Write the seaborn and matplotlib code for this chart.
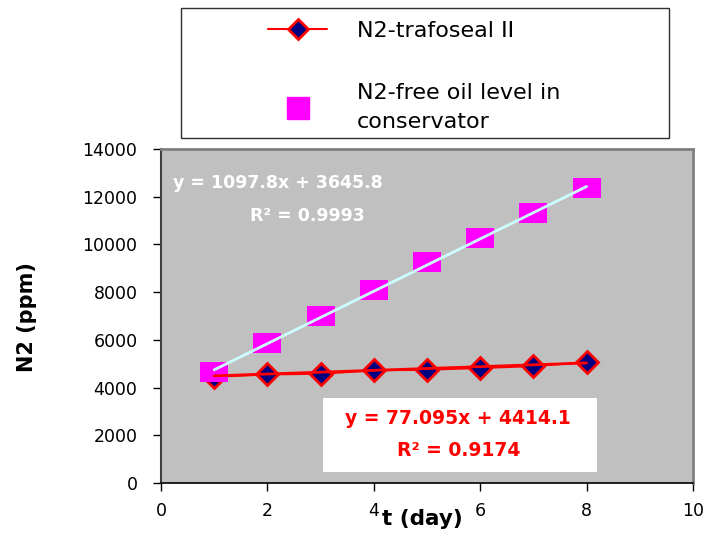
import numpy as np
import pandas as pd
import seaborn as sns
import matplotlib
matplotlib.use("Agg")
import matplotlib.pyplot as plt
from matplotlib.patches import Rectangle
from matplotlib.lines import Line2D

# ---- data ----
days = [1, 2, 3, 4, 5, 6, 7, 8]
n2_trafoseal = [4450, 4550, 4580, 4720, 4750, 4820, 4900, 5070]
n2_free_oil = [4650, 5850, 7000, 8100, 9250, 10250, 11300, 12350]
trend_trafoseal = [77.095, 4414.1]     # slope, intercept
trend_free_oil = [1097.8, 3645.8]
series_labels = ["N2-trafoseal II", "N2-free oil level in\nconservator"]
eq_trafoseal = ["y = 77.095x + 4414.1", "R² = 0.9174"]
eq_free_oil = ["y = 1097.8x + 3645.8", "R² = 0.9993"]
x_ticks = [0, 2, 4, 6, 8, 10]
y_ticks = [0, 2000, 4000, 6000, 8000, 10000, 12000, 14000]
x_label = "t (day)"
y_label = "N2 (ppm)"

sns.set_style("ticks")
plt.rcParams["font.family"] = ["DejaVu Sans"]
plt.rcParams["text.color"] = "black"
plt.rcParams["axes.labelcolor"] = "black"
plt.rcParams["xtick.color"] = "black"
plt.rcParams["ytick.color"] = "black"

W, H = 722, 538
fig = plt.figure(figsize=(W / 100, H / 100), dpi=100)
L, R, T, B = 161, 693, 149, 483
ax = fig.add_axes([L / W, 1 - B / H, (R - L) / W, (B - T) / H])
ax.set_facecolor("#C0C0C0")
ax.grid(False)

df_t = pd.DataFrame({"day": days, "N2": n2_trafoseal})
df_f = pd.DataFrame({"day": days, "N2": n2_free_oil})

sns.lineplot(data=df_t, x="day", y="N2", ax=ax, color="red", lw=1.5,
             marker="D", markersize=11, markerfacecolor="#000080",
             markeredgecolor="red", markeredgewidth=2, zorder=3, legend=False)

rect_marker = [(-1.3, -1), (1.3, -1), (1.3, 1), (-1.3, 1), (-1.3, -1)]
sns.scatterplot(data=df_f, x="day", y="N2", ax=ax, marker=rect_marker,
                s=19.5 ** 2, color="#FF00FF", linewidth=0, zorder=4, legend=False)

xs = np.array([days[0], days[-1]], dtype=float)
sns.lineplot(x=xs, y=trend_free_oil[0] * xs + trend_free_oil[1], ax=ax,
             color="#CCFFFF", lw=2, zorder=5, legend=False)
sns.lineplot(x=xs, y=trend_trafoseal[0] * xs + trend_trafoseal[1], ax=ax,
             color="red", lw=2, zorder=5, legend=False)

ax.set_xlim(0, 10)
ax.set_ylim(0, 14000)
ax.set_xticks(x_ticks)
ax.set_yticks(y_ticks)
ax.tick_params(axis="both", direction="out", length=6, width=1,
               color="black", labelsize=12.5, labelcolor="black")
ax.tick_params(axis="x", pad=8)
ax.tick_params(axis="y", pad=11)

for s in ["top", "right"]:
    ax.spines[s].set_color("#808080")
    ax.spines[s].set_linewidth(2)
ax.spines["left"].set_color("#404040")
ax.spines["left"].set_linewidth(1.5)
ax.spines["bottom"].set_color("black")
ax.spines["bottom"].set_linewidth(1.2)

ax.set_xlabel(x_label, fontsize=15.5, fontweight="bold", va="center", color="black")
ax.xaxis.set_label_coords((422 - L) / (R - L), -(519 - B) / (B - T))
ax.set_ylabel(y_label, fontsize=15, fontweight="bold", va="center", color="black")
ax.yaxis.set_label_coords((27 - L) / (R - L), (B - 317) / (B - T))

# equations
ax.text((278 - L) / (R - L), (B - 183) / (B - T), eq_free_oil[0], transform=ax.transAxes,
        color="white", fontsize=12.5, fontweight="bold", ha="center", va="center", zorder=7)
ax.text((307 - L) / (R - L), (B - 216) / (B - T), eq_free_oil[1], transform=ax.transAxes,
        color="white", fontsize=12.5, fontweight="bold", ha="center", va="center", zorder=7)
ax.add_patch(Rectangle(((323 - L) / (R - L), (B - 472) / (B - T)),
                       (597 - 323) / (R - L), (472 - 398) / (B - T),
                       transform=ax.transAxes, facecolor="white", edgecolor="none", zorder=6))
ax.text((458 - L) / (R - L), (B - 419) / (B - T), eq_trafoseal[0], transform=ax.transAxes,
        color="red", fontsize=13.5, fontweight="bold", ha="center", va="center", zorder=7)
ax.text((459 - L) / (R - L), (B - 450) / (B - T), eq_trafoseal[1], transform=ax.transAxes,
        color="red", fontsize=13.5, fontweight="bold", ha="center", va="center", zorder=7)

# legend box
fig.add_artist(Rectangle((181 / W, 1 - 138 / H), (669 - 181) / W, (138 - 8) / H,
                         transform=fig.transFigure, facecolor="white",
                         edgecolor="#303030", lw=1))
h1 = Line2D([], [], color="red", lw=1.5, marker="D", markersize=10,
            markerfacecolor="#000080", markeredgecolor="red", markeredgewidth=2)
h2 = Line2D([], [], ls="none", marker="s", markersize=16,
            markerfacecolor="#FF00FF", markeredgecolor="#FF00FF")
fs_leg = 16
em = fs_leg * 100 / 72
leg = fig.legend([h1, h2], series_labels, loc="upper left",
                 bbox_to_anchor=(268 / W, 1 - 21 / H), bbox_transform=fig.transFigure,
                 frameon=False, fontsize=fs_leg, handlelength=59 / em,
                 handletextpad=30 / em, labelspacing=1.87, borderpad=0,
                 borderaxespad=0)
for t in leg.get_texts():
    t.set_linespacing(1.6)
    t.set_color("black")

fig.savefig("out.png", dpi=100)
